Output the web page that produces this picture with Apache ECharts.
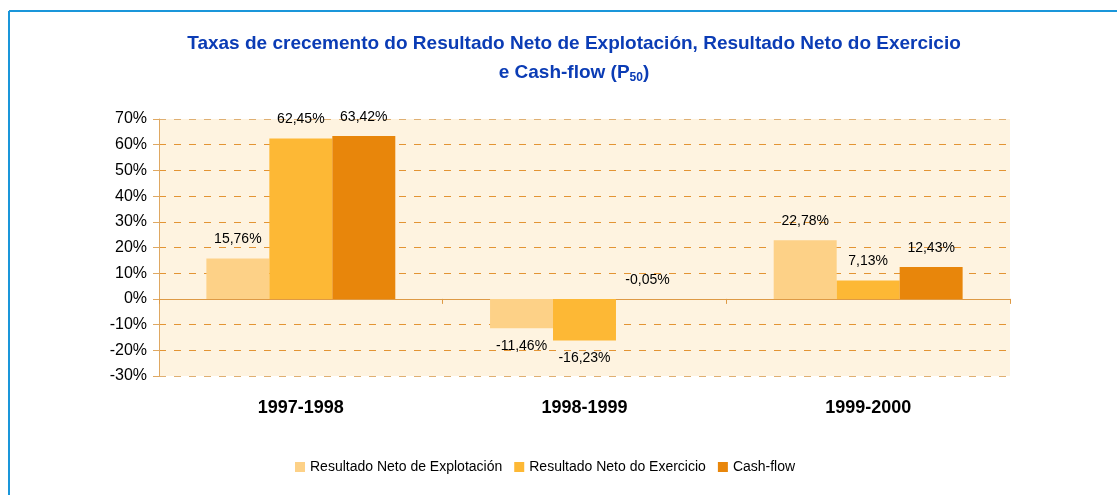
<!DOCTYPE html>
<html>
<head>
<meta charset="utf-8">
<script src="https://cdn.jsdelivr.net/npm/echarts@6/dist/echarts.min.js"></script>
<style>
  html, body { margin: 0; padding: 0; background: #fff; }
  #chart { width: 1117px; height: 495px; }
</style>
</head>
<body>
<div id="chart"></div>
<script>
var periodos = ['1997-1998', '1998-1999', '1999-2000'];
var nomesSeries = ['Resultado Neto de Explotación', 'Resultado Neto do Exercicio', 'Cash-flow'];
var explotacion = [15.76, -11.46, 22.78];
var exercicio = [62.45, -16.23, 7.13];
var cashflow = [63.42, -0.05, 12.43];
// posicion da etiqueta de cada barra (como no orixinal)
var posExplotacion = ['top', 'bottom', 'top'];
var posExercicio = ['top', 'bottom', 'top'];
var posCashflow = ['top', 'top', 'top'];
var cores = ['#FDD187', '#FDB835', '#E8860B'];

var myChart = echarts.init(document.getElementById('chart'));

function etiqueta(v) {
    return v.toFixed(2).replace('.', ',') + '%';
}

function datos(vals, pos) {
    return vals.map(function (v, i) {
        return {
            value: v,
            label: { position: pos[i], distance: pos[i] === 'bottom' ? 11 : 12 }
        };
    });
}

function serie(nome, vals, pos, cor) {
    return {
        name: nome,
        type: 'bar',
        data: datos(vals, pos),
        barGap: '0%',
        barCategoryGap: '33.4%',
        itemStyle: { color: cor },
        label: {
            show: true,
            color: '#000',
            fontSize: 14,
            fontFamily: 'Liberation Sans',
            formatter: function (p) { return etiqueta(p.value); }
        }
    };
}

var option = {
    animation: false,
    backgroundColor: '#fff',
    textStyle: { fontFamily: 'Liberation Sans' },
    graphic: [
        {
            type: 'line',
            shape: { x1: 9, y1: 11, x2: 1117, y2: 11 },
            style: { stroke: '#1A96DA', lineWidth: 2 }
        },
        {
            type: 'line',
            shape: { x1: 9, y1: 11, x2: 9, y2: 495 },
            style: { stroke: '#1A96DA', lineWidth: 2 }
        },
        {
            type: 'text',
            x: 574,
            y: 44,
            style: {
                text: 'Taxas de crecemento do Resultado Neto de Explotación, Resultado Neto do Exercicio',
                fill: '#0B3CB5',
                font: 'bold 19px "Liberation Sans"',
                textAlign: 'center',
                textVerticalAlign: 'middle'
            }
        },
        {
            type: 'text',
            x: 574,
            y: 73,
            style: {
                text: 'e Cash-flow (P{sub|50})',
                fill: '#0B3CB5',
                font: 'bold 19px "Liberation Sans"',
                textAlign: 'center',
                textVerticalAlign: 'middle',
                rich: {
                    sub: {
                        fontSize: 12,
                        fontWeight: 'bold',
                        fill: '#0B3CB5',
                        padding: [9, 0, 0, 0]
                    }
                }
            }
        }
    ],
    legend: {
        data: nomesSeries,
        left: 295,
        top: 460,
        padding: 0,
        itemWidth: 10,
        itemHeight: 10,
        itemGap: 12,
        icon: 'rect',
        textStyle: { fontSize: 14, color: '#000', fontFamily: 'Liberation Sans' }
    },
    grid: {
        left: 159,
        right: 107,
        top: 119,
        bottom: 119,
        show: true,
        backgroundColor: '#FEF3E0',
        borderWidth: 0
    },
    xAxis: [
        {
            type: 'category',
            data: periodos,
            axisLine: { onZero: true, lineStyle: { color: '#DE9A45', width: 1 } },
            axisTick: { show: true, length: 5, lineStyle: { color: '#DE9A45' } },
            axisLabel: { show: false },
            splitLine: { show: false }
        },
        {
            type: 'category',
            data: periodos,
            position: 'bottom',
            axisLine: { show: false },
            axisTick: { show: false },
            axisLabel: {
                margin: 23,
                color: '#000',
                fontSize: 18,
                fontWeight: 'bold',
                fontFamily: 'Liberation Sans'
            }
        }
    ],
    yAxis: {
        type: 'value',
        min: -30,
        max: 70,
        interval: 10,
        axisLine: { show: true, lineStyle: { color: '#DFA862' } },
        axisTick: { show: true, length: 6, lineStyle: { color: '#DFA862' } },
        axisLabel: {
            margin: 12,
            color: '#000',
            fontSize: 16,
            fontFamily: 'Liberation Sans',
            formatter: '{value}%'
        },
        splitLine: {
            show: true,
            lineStyle: {
                color: ['#DFAF72', '#E39433', '#E39433', '#E39433', '#E39433',
                        '#E39433', '#E39433', '#E39433', '#E39433', '#E39433'],
                type: [7, 8],
                width: 1
            }
        }
    },
    series: [
        serie(nomesSeries[0], explotacion, posExplotacion, cores[0]),
        serie(nomesSeries[1], exercicio, posExercicio, cores[1]),
        serie(nomesSeries[2], cashflow, posCashflow, cores[2])
    ]
};

myChart.setOption(option);
</script>
</body>
</html>
